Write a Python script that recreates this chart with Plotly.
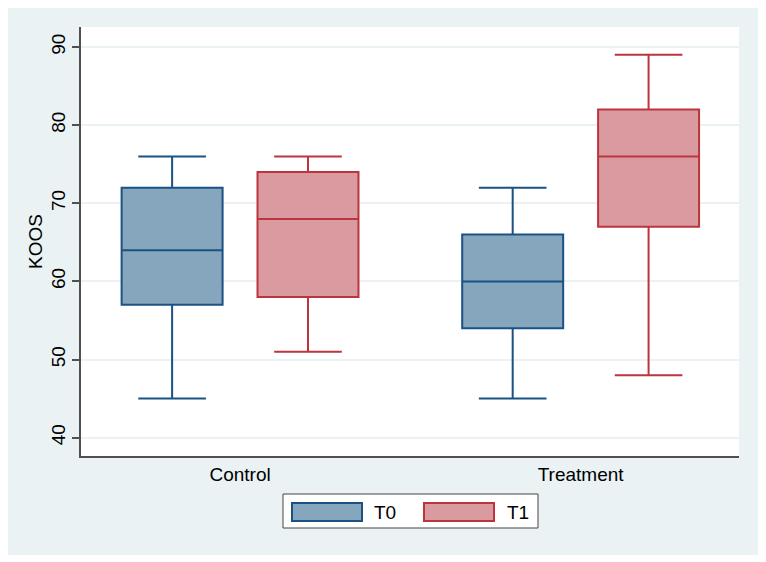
import plotly.graph_objects as go

categories = ["Control", "Treatment"]
series_names = ["T0", "T1"]
t0_lower = [45, 45]
t0_q1 = [57, 54]
t0_median = [64, 60]
t0_q3 = [72, 66]
t0_upper = [76, 72]
t1_lower = [51, 48]
t1_q1 = [58, 67]
t1_median = [68, 76]
t1_q3 = [74, 82]
t1_upper = [76, 89]
y_ticks = [40, 50, 60, 70, 80, 90]

FONT = "Liberation Sans, Arial, Helvetica, sans-serif"
T0_FILL = "rgb(133,166,188)"
T0_LINE = "rgb(26,82,132)"
T1_FILL = "rgb(217,155,160)"
T1_LINE = "rgb(188,52,62)"
BG = "rgb(234,242,243)"
FS = 19

fig = go.Figure()
fig.add_trace(go.Box(
    x=categories, q1=t0_q1, median=t0_median, q3=t0_q3,
    lowerfence=t0_lower, upperfence=t0_upper, name=series_names[0],
    fillcolor=T0_FILL, line=dict(color=T0_LINE, width=2),
    whiskerwidth=0.67, boxpoints=False, showlegend=False, hoverinfo="skip"))
fig.add_trace(go.Box(
    x=categories, q1=t1_q1, median=t1_median, q3=t1_q3,
    lowerfence=t1_lower, upperfence=t1_upper, name=series_names[1],
    fillcolor=T1_FILL, line=dict(color=T1_LINE, width=2),
    whiskerwidth=0.67, boxpoints=False, showlegend=False, hoverinfo="skip"))

W, H = 750, 547
L, R, T, B = 73, 19, 19, 99
pw, ph = W - L - R, H - T - B
OX, OY = 8, 8  # page offset of the figure


def px(x):
    return (x - OX - L) / pw


def py(y):
    return (H - B - (y - OY)) / ph


shapes = [
    # legend frame
    dict(type="rect", xref="paper", yref="paper", x0=px(283), x1=px(538), y0=py(494), y1=py(528),
         fillcolor="white", line=dict(color="#444444", width=1)),
    dict(type="rect", xref="paper", yref="paper", x0=px(292), x1=px(362), y0=py(503), y1=py(521),
         fillcolor=T0_FILL, line=dict(color=T0_LINE, width=2)),
    dict(type="rect", xref="paper", yref="paper", x0=px(424), x1=px(494), y0=py(503), y1=py(521),
         fillcolor=T1_FILL, line=dict(color=T1_LINE, width=2)),
]
annotations = [
    dict(text=series_names[0], xref="paper", yref="paper", x=px(372), y=py(512), xanchor="left",
         yanchor="middle", showarrow=False, font=dict(family=FONT, size=FS, color="black")),
    dict(text=series_names[1], xref="paper", yref="paper", x=px(505), y=py(512), xanchor="left",
         yanchor="middle", showarrow=False, font=dict(family=FONT, size=FS, color="black")),
]

fig.update_layout(
    width=W, height=H,
    margin=dict(l=L, r=R, t=T, b=B, pad=0),
    paper_bgcolor=BG, plot_bgcolor="white",
    boxmode="group", boxgap=0.202, boxgroupgap=0.257,
    font=dict(family=FONT, size=FS, color="black"),
    shapes=shapes, annotations=annotations, showlegend=False,
    xaxis=dict(showline=True, linecolor="#505050", linewidth=1.5, ticks="", showgrid=False,
               zeroline=False, tickfont=dict(size=FS), range=[-0.467, 1.465]),
    yaxis=dict(range=[37.65, 92.56], tickvals=y_ticks, tickangle=-90, ticks="outside",
               ticklen=7, tickcolor="#505050", tickwidth=1.5, showline=True, linecolor="#505050",
               linewidth=1.5, showgrid=True, gridcolor=BG, gridwidth=1.5, zeroline=False,
               tickfont=dict(size=FS),
               title=dict(text="KOOS", font=dict(size=FS), standoff=0)),
)

fig.write_html("out.html")
